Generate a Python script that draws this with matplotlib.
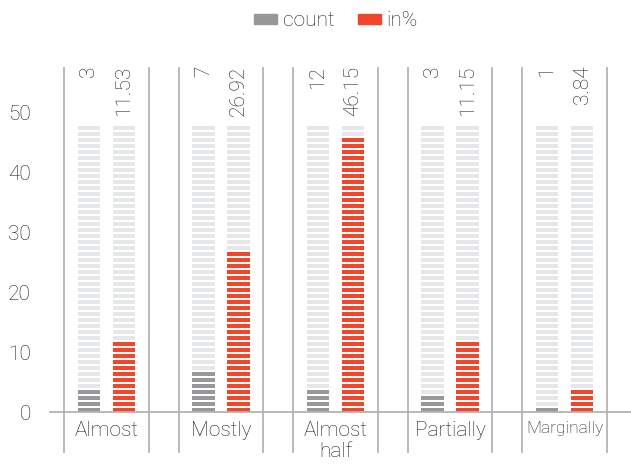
import numpy as np
import matplotlib
matplotlib.use("Agg")
import matplotlib.pyplot as plt
from matplotlib.patches import Patch

plt.rcParams['font.family'] = ['Roboto', 'DejaVu Sans']

# data
categories = ['Almost', 'Mostly', 'Almost\nhalf', 'Partially', 'Marginally']
count = [3, 7, 12, 3, 1]
count_bar = [4, 7, 4, 3, 1]          # stripes drawn for "count" as shown in the picture
in_pct = [11.53, 26.92, 46.15, 11.15, 3.84]
in_pct_bar = [12, 27, 46, 12, 4]     # stripes drawn for "in%" as shown in the picture
background = 48

GRAY = '#98989b'
RED = '#f2452a'
LIGHT = '#e6e7e9'
LINE = '#b3b3b3'
TEXT = '#1f1f1f'

fig = plt.figure(figsize=(6.31, 4.65), dpi=100)
W, H = 631, 465
top_px, base_px, left_px = 68, 412, 64
ax = fig.add_axes([left_px / W, (H - base_px) / H, (W - left_px) / W, (base_px - top_px) / H])

half = 0.371
xs = np.arange(len(categories))
bw = 0.2
off = 0.153
ymax = (base_px - top_px) / 6.0
ax.set_ylim(0, ymax)
ax.set_xlim(-half, 4 + (W - 564.5) / 114.5)


def stripes(x, h, color):
    ks = np.arange(int(np.ceil(h)))
    heights = np.minimum(0.67, h - ks)
    ax.bar(x, heights, bw, bottom=ks, color=color, linewidth=0, zorder=2)


for i in range(len(categories)):
    stripes(xs[i] - off, background, LIGHT)
    stripes(xs[i] + off, background, LIGHT)
    stripes(xs[i] - off, count_bar[i], GRAY)
    stripes(xs[i] + off, in_pct_bar[i], RED)
    ax.text(xs[i] - off, 57.7, str(count[i]), rotation=90, ha='center', va='top',
            fontsize=15, color=TEXT, fontweight='light', clip_on=False)
    ax.text(xs[i] + off, 57.7, f'{in_pct[i]:.2f}', rotation=90, ha='center', va='top',
            fontsize=15, color=TEXT, fontweight='light', clip_on=False)
    fs = 12.5 if categories[i] == 'Marginally' else 15
    ax.text(xs[i], -1.5, categories[i], ha='center', va='top', fontsize=fs,
            color=TEXT, fontweight='light', linespacing=1.15, clip_on=False)
    for xl in (xs[i] - half, xs[i] + half):
        ax.plot([xl, xl], [-6.7, ymax], color=LINE, lw=1.3, clip_on=False, zorder=1)

# baseline
ax.plot([-half - 14 / 114.5, ax.get_xlim()[1]], [0, 0], color=LINE, lw=1.3, clip_on=False, zorder=3)

ax.set_yticks(np.arange(0, 51, 10))
ax.set_xticks([])
ax.tick_params(axis='y', length=0, pad=24, labelsize=15, labelcolor=TEXT)
for lab in ax.get_yticklabels():
    lab.set_fontweight('light')
for s in ax.spines.values():
    s.set_visible(False)

handles = [Patch(color=GRAY, label='count'), Patch(color=RED, label='in%')]
fig.legend(handles=handles, loc='center', bbox_to_anchor=(336 / W, 1 - 21 / H), ncol=2,
           frameon=False, prop={'size': 15, 'weight': 'light'}, handlelength=1.1,
           handleheight=0.35, handletextpad=0.3, columnspacing=1.1, labelcolor=TEXT)

fig.savefig('out.png', dpi=100)
